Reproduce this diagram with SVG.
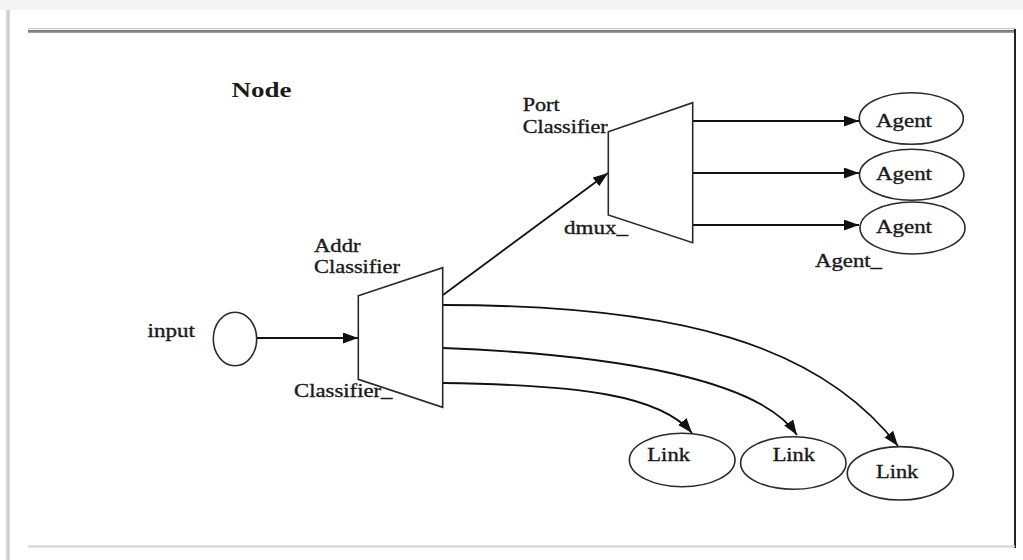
<svg xmlns="http://www.w3.org/2000/svg" width="1023" height="560" viewBox="0 0 1023 560">
  <defs>
    <marker id="arrow" markerUnits="userSpaceOnUse" markerWidth="17" markerHeight="12" refX="15" refY="5.5" orient="auto">
      <path d="M0,0 L15,5.5 L0,11 z" fill="#111"/>
    </marker>
    <linearGradient id="shadowL" x1="0" y1="0" x2="1" y2="0">
      <stop offset="0" stop-color="#ffffff"/>
      <stop offset="0.6" stop-color="#c4c4c4"/>
      <stop offset="1" stop-color="#e6e6e6"/>
    </linearGradient>
    <linearGradient id="rule" x1="0" y1="0" x2="0" y2="1">
      <stop offset="0" stop-color="#666"/>
      <stop offset="1" stop-color="#aaa"/>
    </linearGradient>
  </defs>
  <style>
    .lbl { font-family: "Liberation Serif", "Times New Roman", serif; font-size: 18px; fill: #1a1a1a; stroke: #1a1a1a; stroke-width: 0.35; }
    .title { font-family: "Liberation Serif", "Times New Roman", serif; font-size: 22px; font-weight: bold; fill: #1a1a1a; }
    .shape { fill: #fff; stroke: #2a2a2a; stroke-width: 1.6; }
    .edge { fill: none; stroke: #111; stroke-width: 1.8; marker-end: url(#arrow); }
  </style>

  <!-- page background and frame -->
  <rect x="0" y="0" width="1023" height="560" fill="#fff"/>
  <rect x="0" y="0" width="1023" height="10" fill="#f4f4f4"/>
  <rect x="5" y="10" width="5" height="550" fill="url(#shadowL)"/>
  <line x1="28" y1="28.5" x2="1015" y2="28.5" stroke="#c4c4c4" stroke-width="1"/>
  <rect x="28" y="30" width="987" height="3" fill="url(#rule)"/>
  <line x1="1015" y1="29" x2="1015" y2="548" stroke="#222" stroke-width="2"/>
  <line x1="28" y1="546.5" x2="1015" y2="546.5" stroke="#d2d2d2" stroke-width="2"/>

  <text class="title" x="231.5" y="97" textLength="60" lengthAdjust="spacingAndGlyphs">Node</text>

  <!-- connectors -->
  <g id="connectors">
    <line class="edge" x1="257" y1="338" x2="358" y2="338"/>
    <line class="edge" x1="443" y1="295" x2="608" y2="173"/>
    <line class="edge" x1="693" y1="121" x2="859" y2="121"/>
    <line class="edge" x1="693" y1="173" x2="859" y2="173"/>
    <line class="edge" x1="693" y1="225" x2="859" y2="225"/>
    <path class="edge" d="M443,383 C580,385 660,395 692,433"/>
    <path class="edge" d="M443,348 C620,355 760,380 797,435"/>
    <path class="edge" d="M443,305 C680,305 820,345 898,446"/>
  </g>

  <g id="input">
    <ellipse class="shape" cx="235" cy="339" rx="21.7" ry="26.7"/>
    <text class="lbl" x="147.5" y="336.5" textLength="47.5" lengthAdjust="spacingAndGlyphs">input</text>
  </g>

  <g id="addr-classifier">
    <polygon class="shape" points="358.3,295.7 442.7,267.7 442.7,407.3 358.3,379.3"/>
    <text class="lbl" x="314" y="251.5" textLength="46.5" lengthAdjust="spacingAndGlyphs">Addr</text>
    <text class="lbl" x="314" y="273.3" textLength="86" lengthAdjust="spacingAndGlyphs">Classifier</text>
    <text class="lbl" x="294" y="396.7" textLength="98.5" lengthAdjust="spacingAndGlyphs">Classifier_</text>
  </g>

  <g id="port-classifier">
    <polygon class="shape" points="608.3,131.7 692.7,102.7 692.7,242.7 608.3,215"/>
    <text class="lbl" x="522.7" y="111" textLength="37" lengthAdjust="spacingAndGlyphs">Port</text>
    <text class="lbl" x="522.7" y="132.7" textLength="85" lengthAdjust="spacingAndGlyphs">Classifier</text>
    <text class="lbl" x="564" y="234" textLength="64" lengthAdjust="spacingAndGlyphs">dmux_</text>
  </g>

  <g id="agent-1">
    <ellipse class="shape" cx="911.3" cy="118.5" rx="52" ry="25.7"/>
    <text class="lbl" x="876" y="127.3" textLength="56" lengthAdjust="spacingAndGlyphs">Agent</text>
  </g>
  <g id="agent-2">
    <ellipse class="shape" cx="911.7" cy="174.7" rx="52.2" ry="25.5"/>
    <text class="lbl" x="876" y="180" textLength="56" lengthAdjust="spacingAndGlyphs">Agent</text>
  </g>
  <g id="agent-3">
    <ellipse class="shape" cx="912.5" cy="228" rx="52.5" ry="26"/>
    <text class="lbl" x="876" y="232.7" textLength="56" lengthAdjust="spacingAndGlyphs">Agent</text>
  </g>
  <text class="lbl" x="815" y="266.7" textLength="67" lengthAdjust="spacingAndGlyphs">Agent_</text>

  <g id="link-1">
    <ellipse class="shape" cx="682.2" cy="460" rx="52.8" ry="26.7"/>
    <text class="lbl" x="647.3" y="460.7" textLength="42.7" lengthAdjust="spacingAndGlyphs">Link</text>
  </g>
  <g id="link-2">
    <ellipse class="shape" cx="793.3" cy="463" rx="52.7" ry="26.3"/>
    <text class="lbl" x="772.7" y="460.7" textLength="42.3" lengthAdjust="spacingAndGlyphs">Link</text>
  </g>
  <g id="link-3">
    <ellipse class="shape" cx="900.3" cy="473.3" rx="53" ry="26.7"/>
    <text class="lbl" x="876" y="478.3" textLength="42.3" lengthAdjust="spacingAndGlyphs">Link</text>
  </g>
</svg>
